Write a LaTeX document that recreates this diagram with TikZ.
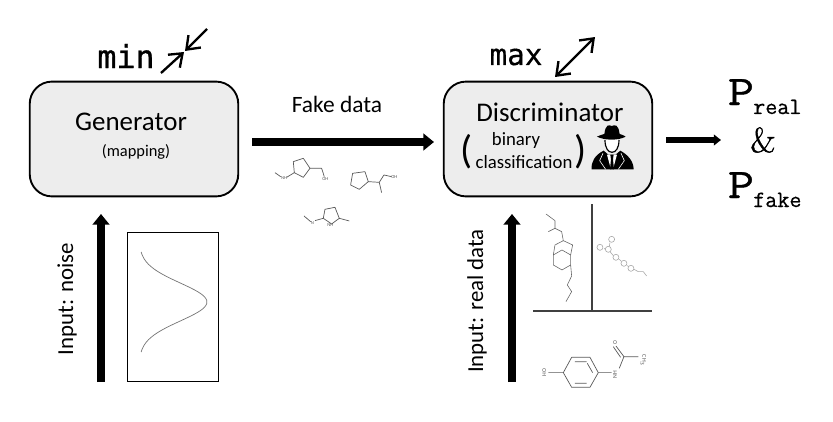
\documentclass[tikz,border=0pt]{standalone}
\usepackage{fontspec}
\setmainfont{Carlito}
\newfontfamily\codefont[FakeBold=0.5]{DejaVu Sans Mono}
\newfontfamily\mincodefont[FakeBold=1]{DejaVu Sans Mono}
\newfontfamily\slabfont[FakeBold=0.6]{Latin Modern Mono}
\newfontfamily\bigslabfont[FakeBold=1,FakeStretch=1.2]{Latin Modern Mono}
\newfontfamily\ampfont[FakeBold=1.2]{Latin Modern Roman}
\usetikzlibrary{positioning, arrows.meta}
\tikzset{
  block/.style={draw=black, line width=1.6pt, rounded corners=19pt, fill=black!7, minimum width=178pt, minimum height=98pt},
  flow/.style={-{Triangle[length=9pt,width=14pt]}, line width=6pt},
  thin arrow/.style={-{Straight Barb[length=10pt,width=15pt]}, line width=2pt},
  bond/.style={draw=black!65, line width=0.6pt, line join=round},
  faint bond/.style={draw=black!35, line width=0.5pt, line join=round},
  atom/.style={inner sep=0pt, font=\fontsize{4}{4}\selectfont, text=black!65},
  cross/.style={draw=black!75, line width=1.3pt}
}
\begin{document}
\begin{tikzpicture}[x=0.03cm,y=-0.03cm]
    \useasboundingbox (0,0) rectangle (833,422);

    \node[block] (generator) at (134,139) {};
    \node[block] (discriminator) at (548,139) {};
    \node[font=\fontsize{23}{23}\selectfont] (gen_title) at (131,122) {Generator};
    \node[font=\fontsize{14}{14}\selectfont] (gen_sub) at (136,152) {(mapping)};
    \node[font=\fontsize{23}{23}\selectfont] (disc_title) at (550,112) {Discriminator};
    \node[font=\fontsize{16}{16}\selectfont] (disc_binary) at (516,141) {binary};
    \node[font=\fontsize{16}{16}\selectfont] (disc_class) at (524,162) {classification};
    \node[font=\fontsize{34}{34}\selectfont] (par_left) at (467,152) {(};
    \node[font=\fontsize{34}{34}\selectfont] (par_right) at (581,152) {)};

    % mini and maxi
    \node[font=\fontsize{27}{27}\selectfont\mincodefont] (min_label) at (126,56) {min};
    \node[font=\fontsize{25}{25}\selectfont\codefont] (max_label) at (516,57) {max};
    \coordinate (min_a) at (161,73);
    \coordinate (min_b) at (184,52);
    \coordinate (min_c) at (207,29);
    \coordinate (min_d) at (185,51);
    \coordinate (max_a) at (555,77);
    \coordinate (max_b) at (595,37);
    \draw[thin arrow] (min_a) -- (min_b);
    \draw[thin arrow] (min_c) -- (min_d);
    \draw[thin arrow, {Straight Barb[length=10pt,width=15pt]}-{Straight Barb[length=10pt,width=15pt]}] (max_a) -- (max_b);

    % main flow
    \node[font=\fontsize{20}{20}\selectfont] (fake_label) at (337,104) {Fake data};
    \coordinate (fake_start) at (252,142);
    \coordinate (fake_end) at (434,142);
    \coordinate (noise_start) at (101,382);
    \coordinate (noise_end) at (101,214);
    \coordinate (real_start) at (512,382);
    \coordinate (real_end) at (512,214);
    \coordinate (out_start) at (666,140);
    \coordinate (out_end) at (721,140);
    \draw[flow] (fake_start) -- (fake_end);
    \draw[flow] (noise_start) -- (noise_end);
    \draw[flow] (real_start) -- (real_end);
    \draw[flow, line width=4.5pt, -{Triangle[length=6pt,width=9pt]}] (out_start) -- (out_end);
    \node[font=\fontsize{19.5}{19.5}\selectfont, rotate=90] (noise_label) at (67,299) {Input: noise};
    \node[font=\fontsize{19.5}{19.5}\selectfont, rotate=90] (real_label) at (477,301) {Input: real data};

    % probabilities
    \node[font=\fontsize{36}{36}\selectfont\bigslabfont, anchor=base, inner sep=0pt] (p_real) at (741,105) {P};
    \node[font=\fontsize{20}{20}\selectfont\slabfont, anchor=base west, inner sep=0pt] (real_sub) at (753,114) {real};
    \node[font=\fontsize{30}{30}\selectfont\ampfont] (amp) at (763,140) {\&};
    \node[font=\fontsize{36}{36}\selectfont\bigslabfont, anchor=base, inner sep=0pt] (p_fake) at (741,198) {P};
    \node[font=\fontsize{20}{20}\selectfont\slabfont, anchor=base west, inner sep=0pt] (fake_sub) at (753,207) {fake};

    % noise distribution
    \node[draw, line width=1.1pt, minimum width=78pt, minimum height=127pt, inner sep=0pt] (noise_box) at (173,307) {};
    \draw[black!55, line width=0.6pt] plot[smooth, samples=30, domain=252:352, variable=\v] ({139+68*exp(-(\v-302)*(\v-302)/722)},{\v});

    % real data separators
    \coordinate (cross_top) at (592,204);
    \coordinate (cross_left) at (533,311);
    \coordinate (cross_right) at (652,311);
    \draw[cross] (cross_left) -- (cross_right);
    \draw[cross] (cross_top) -- (cross_top |- cross_left);

    % detective
    \begin{scope}[shift={(585,120)},x=0.01cm,y=-0.01cm]
      \fill (58,42) .. controls (62,12) and (72,14) .. (80,18) .. controls (90,14) and (100,12) .. (104,42)
          .. controls (112,45) and (118,46) .. (122,50) .. controls (100,62) and (60,62) .. (36,50) .. controls (42,46) and (50,45) .. (58,42) -- cycle;
      \fill (20,148) .. controls (18,125) and (30,105) .. (56,92) -- (70,104) -- (92,104) -- (106,92)
          .. controls (130,105) and (146,125) .. (146,148) -- cycle;
      \draw[line width=1pt, fill=white] (60,60) .. controls (60,85) and (70,97) .. (81,97) .. controls (92,97) and (102,85) .. (102,60);
      \fill[white] (66,104) -- (96,104) -- (84,148) -- (78,148) -- cycle;
      \fill (76,104) -- (86,104) -- (84,118) -- (87,148) -- (75,148) -- (78,118) -- cycle;
      \draw[white, line width=0.5pt] (54,100) -- (44,122) -- (62,148) (108,100) -- (118,122) -- (100,148);
    \end{scope}

    % fake molecules
    \begin{scope}[shift={(260,150)},x=0.01cm,y=-0.01cm]
      \path[bond] (45,68) -- (62,80) (100,35) -- (130,25) -- (150,55) -- (130,82) -- (103,68) -- cycle
          (103,68) -- (80,82) (150,55) -- (185,55) -- (193,80);
      \path[bond] (278,70) -- (315,65) -- (325,95) -- (298,118) -- (272,105) -- cycle
          (325,95) -- (358,97) -- (372,75) -- (395,80) (358,97) -- (365,128);
      \path[bond] (132,198) -- (152,215) (165,212) -- (190,205) -- (195,178) -- (225,172) -- (238,205) -- (215,222) -- (190,205)
          (238,205) -- (268,213);
      \node[atom] (m1_nh) at (72,84) {NH};
      \node[atom] (m1_oh) at (196,88) {OH};
      \node[atom] (m2_oh) at (403,80) {OH};
      \node[atom] (m3_n) at (157,220) {N};
      \node[atom] (m3_nh) at (211,226) {NH};
    \end{scope}

    % real molecules
    \begin{scope}[shift={(530,200)},x=0.01cm,y=-0.01cm]
      \path[faint bond, draw=black!60] (48,42) -- (75,62) -- (75,85) -- (55,95) (75,85) -- (95,95) -- (100,122) -- (75,135) -- (70,165) -- (96,150) -- (122,165) -- (128,135) -- (100,122)
          (70,165) -- (70,195) -- (96,210) -- (122,195) -- (122,165) (122,195) -- (125,228) -- (112,255) -- (125,275) -- (108,305);
      \foreach \cx/\cy in {210/142, 235/148, 245/118, 258/172, 282/190, 303/205} {
        \draw[faint bond] (\cx,\cy) circle[radius=9];
      }
      \path[faint bond] (222,145) -- (226,148) (240,128) -- (238,140) (240,155) -- (250,167) (268,178) -- (274,184) (292,197) -- (296,200)
          (312,208) -- (325,215) -- (340,215) -- (350,228);
    \end{scope}
    \begin{scope}[shift={(530,330)},x=0.01cm,y=-0.01cm]
      \path[bond] (55,128) -- (100,128) (100,128) -- (125,82) -- (180,82) -- (205,128) -- (180,172) -- (125,172) -- cycle
          (135,95) -- (170,95) (135,160) -- (170,160) (188,128) -- (172,100) (205,128) -- (245,128) (268,115) -- (282,80) -- (325,80) (282,80) -- (258,48) (272,82) -- (250,50);
      \node[atom, rotate=90, font=\fontsize{5}{5}\selectfont] (ref_oh) at (43,128) {HO};
      \node[atom, rotate=90, font=\fontsize{5}{5}\selectfont] (ref_nh) at (255,135) {NH};
      \node[atom, font=\fontsize{5}{5}\selectfont] (ref_o) at (255,38) {O};
      \node[atom, rotate=-90, font=\fontsize{5}{5}\selectfont] (ref_ch) at (340,92) {CH$_3$};
    \end{scope}
\end{tikzpicture}
\end{document}
